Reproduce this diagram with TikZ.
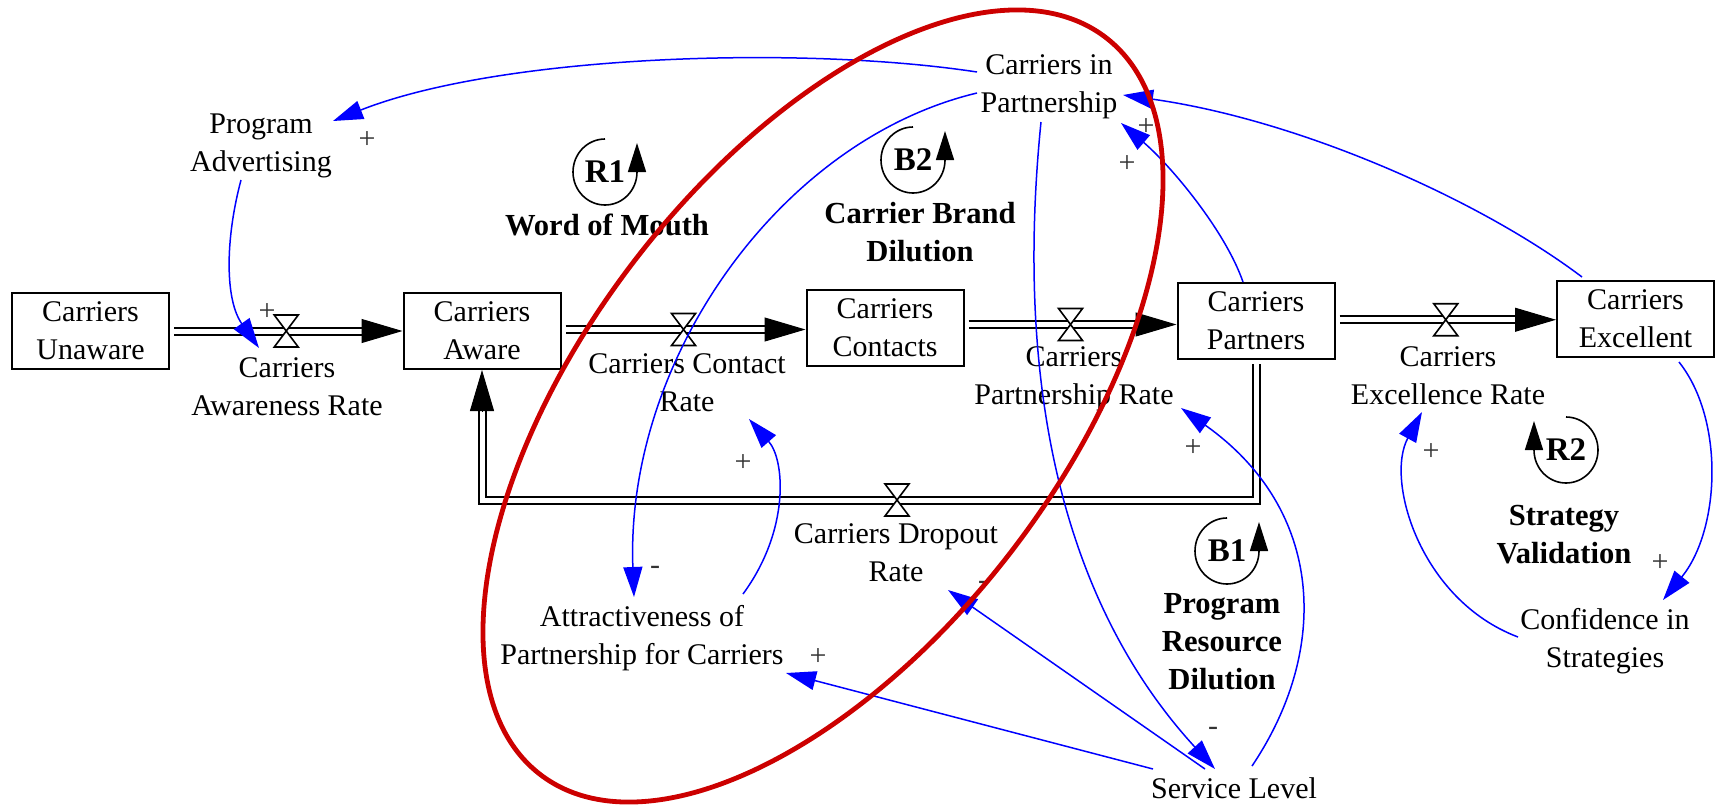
\documentclass[tikz,border=0pt]{standalone}
\usepackage{fontspec}
\setmainfont{Liberation Serif}
\usetikzlibrary{arrows.meta,calc}
\definecolor{linkblue}{RGB}{0,0,255}
\definecolor{loopred}{RGB}{204,0,0}
\begin{document}
\begin{tikzpicture}[x=0.5pt,y=-0.5pt,
  every node/.style={font=\fontsize{15pt}{19pt}\selectfont, inner sep=0pt, align=center},
  stock/.style={draw, line width=1pt, minimum width=78.5pt, minimum height=38pt},
  pipe/.style={draw=black, line width=1pt, double=white, double distance=2.5pt, shorten >=13pt},
  pipetip/.style={line width=0.5pt, -{Triangle[length=20.5pt,width=12pt]}},
  link/.style={draw=linkblue, line width=0.75pt, -{Triangle[length=15pt,width=9.5pt]}},
  sign/.style={text=black!80},
  looplabel/.style={font=\bfseries\fontsize{15.3pt}{19pt}\selectfont},
  loopid/.style={font=\bfseries\fontsize{16.5pt}{19pt}\selectfont},
  loopsym/.style={line width=0.8pt, -{Triangle[length=14.5pt,width=9pt]}},
  valve/.pic={\draw[fill=white, line width=0.8pt] (-12,-16) -- (12,-16) -- (-12,16) -- (12,16) -- cycle;},
]
\useasboundingbox (0,0) rectangle (1719,804);

% stocks
\node[stock] (U) at (90.5,331) {Carriers\\Unaware};
\node[stock] (A) at (482,331) {Carriers\\Aware};
\node[stock] (C) at (885,328) {Carriers\\Contacts};
\node[stock] (P) at (1256,321) {Carriers\\Partners};
\node[stock] (E) at (1635.5,318.5) {Carriers\\Excellent};

% flow midpoints (valves)
\coordinate (m1) at ($(U.east)!0.5!(A.west)$);
\coordinate (m2) at ($(A.east)!0.5!(C.west)$);
\coordinate (m3) at ($(C.east)!0.5!(P.west)$);
\coordinate (m4) at ($(P.east)!0.5!(E.west)$);
\coordinate (drop) at (897,500);
\coordinate (dA) at (A.south |- drop);
\coordinate (dP) at (P.south |- drop);

% pipes
\draw[pipe] ($(U.east |- m1)+(4,0)$) -- (A.west |- m1);
\draw[pipetip] ($(A.west |- m1)+(-41,0)$) -- (A.west |- m1);
\draw[pipe] ($(A.east |- m2)+(4,0)$) -- (C.west |- m2);
\draw[pipetip] ($(C.west |- m2)+(-41,0)$) -- (C.west |- m2);
\draw[pipe] ($(C.east |- m3)+(4,0)$) -- (P.west |- m3);
\draw[pipetip] ($(P.west |- m3)+(-41,0)$) -- (P.west |- m3);
\draw[pipe] ($(P.east |- m4)+(4,0)$) -- (E.west |- m4);
\draw[pipetip] ($(E.west |- m4)+(-41,0)$) -- (E.west |- m4);
\draw[pipe] ($(P.south)+(0,4)$) -- (dP) -- (dA) -- (A.south);
\draw[pipetip] ($(A.south)+(0,41)$) -- (A.south);

% valves
\pic at (m1) {valve};
\pic at (m2) {valve};
\pic at (m3) {valve};
\pic at (m4) {valve};
\pic at (drop) {valve};

% rates
\node (rAw) at (287,387) {Carriers\\Awareness Rate};
\node (rCo) at (687,383) {Carriers Contact\\Rate};
\node (rPa) at (1074,379) {Carriers\\Partnership Rate};
\node (rEx) at (1448,376) {Carriers\\Excellence Rate};
\node (rDr) at (896,553) {Carriers Dropout\\Rate};

% auxiliaries
\node (padv) at (261,146) {Program\\Advertising};
\node (cip) at (1049,87) {Carriers in\\Partnership};
\node (attr) at (642,638) {Attractiveness of\\Partnership for Carriers};
\node (svc) at (1234,788) {Service Level};
\node (conf) at (1605,641) {Confidence in\\Strategies};

% loop labels
\node[looplabel] (lWM) at (607,225) {Word of Mouth};
\node[looplabel] (lCB) at (920,232) {Carrier Brand\\Dilution};
\node[looplabel] (lPR) at (1222,642) {Program\\Resource\\Dilution};
\node[looplabel] (lSV) at (1564,535) {Strategy\\Validation};

\coordinate (cR1) at (605,172);
\coordinate (cB2) at (913,160);
\coordinate (cB1) at (1227,551);
\coordinate (cR2) at (1566,450);
\node[loopid] (nR1) at (cR1) {R1};
\node[loopid] (nB2) at (cB2) {B2};
\node[loopid] (nB1) at (cB1) {B1};
\node[loopid] (nR2) at (cR2) {R2};
\draw[loopsym] ($(cR1)+(0,-33)$) arc[start angle=-90, end angle=-360, x radius=32, y radius=33] -- ++(0,-29);
\draw[loopsym] ($(cB2)+(0,-33)$) arc[start angle=-90, end angle=-360, x radius=32, y radius=33] -- ++(0,-29);
\draw[loopsym] ($(cB1)+(0,-33)$) arc[start angle=-90, end angle=-360, x radius=32, y radius=33] -- ++(0,-29);
\draw[loopsym] ($(cR2)+(0,-33)$) arc[start angle=-90, end angle=180, x radius=32, y radius=33] -- ++(0,-29);

% causal links
\draw[link] ($(cip.center)+(-72,-15)$) .. controls (800,45) and (500,55) .. ($(padv.center)+(72,-25)$);
\draw[link] ($(padv.center)+(-20,34)$) .. controls (225,240) and (225,300) .. ($(rAw.center)+(-28,-39)$);
\draw[link] ($(cip.center)+(-72,6)$) .. controls (780,140) and (625,360) .. ($(attr.center)+(-8,-41)$);
\draw[link] ($(attr.center)+(101,-44)$) .. controls (790,530) and (785,460) .. ($(rCo.center)+(62,36)$);
\draw[link] ($(cip.center)+(-8,35)$) .. controls (1015,380) and (1060,600) .. ($(svc.center)+(-19,-19)$);
\draw[link] ($(svc.center)+(-81,-19)$) -- ($(attr.center)+(144,35)$);
\draw[link] ($(svc.center)+(-29,-19)$) -- ($(rDr.center)+(52,37)$);
\draw[link] ($(svc.center)+(18,-22)$) .. controls (1330,650) and (1325,510) .. ($(rPa.center)+(107,29)$);
\draw[link] ($(P.center)+(-13,-39)$) .. controls (1225,230) and (1170,165) .. ($(cip.center)+(72,36)$);
\draw[link] ($(E.center)+(-53.5,-41.5)$) .. controls (1480,200) and (1300,120) .. ($(cip.center)+(74,8)$);
\draw[link] ($(E.center)+(43.5,43.5)$) .. controls (1725,420) and (1720,530) .. ($(conf.center)+(58,-41)$);
\draw[link] ($(conf.center)+(-87,-4)$) .. controls (1420,600) and (1385,480) .. ($(rEx.center)+(-26,36)$);

% polarities
\node[sign] (s1) at (367,140) {+};
\node[sign] (s2) at (267,312) {+};
\node[sign] (s3) at (655,570) {-};
\node[sign] (s4) at (743,463) {+};
\node[sign] (s5) at (1213,731) {-};
\node[sign] (s6) at (818,657) {+};
\node[sign] (s7) at (983,585) {-};
\node[sign] (s8) at (1193,448) {+};
\node[sign] (s9) at (1127,164) {+};
\node[sign] (s10) at (1146,127) {+};
\node[sign] (s11) at (1660,563) {+};
\node[sign] (s12) at (1431,452) {+};

% highlighted loop region
\draw[loopred, line width=2.4pt, rotate around={52.5:(823,406)}] (823,406) ellipse [x radius=464.5, y radius=238];
\end{tikzpicture}
\end{document}
